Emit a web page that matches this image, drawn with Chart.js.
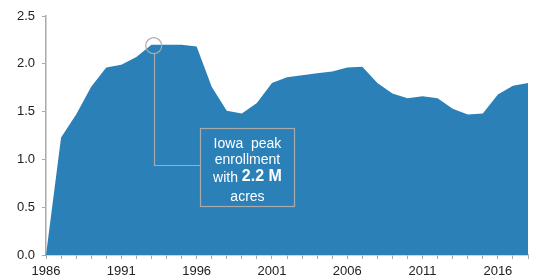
<!DOCTYPE html>
<html>
<head>
<meta charset="utf-8">
<script src="https://cdn.jsdelivr.net/npm/chart.js@4/dist/chart.umd.min.js"></script>
<style>
html,body{margin:0;padding:0;background:#fff;}
#wrap{width:537px;height:278px;position:relative;}
</style>
</head>
<body>
<div id="wrap"><canvas id="c" width="537" height="278"></canvas></div>
<script>
const years = [1986,1987,1988,1989,1990,1991,1992,1993,1994,1995,1996,1997,1998,1999,2000,2001,2002,2003,2004,2005,2006,2007,2008,2009,2010,2011,2012,2013,2014,2015,2016,2017,2018];
const enrollment = [0.0,1.23,1.47,1.76,1.96,1.99,2.07,2.20,2.20,2.20,2.18,1.76,1.51,1.48,1.59,1.80,1.86,1.88,1.90,1.92,1.96,1.97,1.80,1.69,1.64,1.66,1.64,1.53,1.47,1.48,1.68,1.77,1.80];
const yTicks = [0,0.5,1.0,1.5,2.0,2.5];
const xLabelYears = [1986,1991,1996,2001,2006,2011,2016];
const peakYear = 1993;
const peakValue = 2.2;

const FONT = '"Liberation Sans", Arial, sans-serif';
const GREY = '#aaaaaa';

const annotationPlugin = {
  id: 'peakNote',
  afterDatasetsDraw(chart) {
    const ctx = chart.ctx;
    const xs = chart.scales.x, ys = chart.scales.y;
    const cx = xs.getPixelForValue(peakYear + 0.15);
    const cy = ys.getPixelForValue(peakValue - 0.01);
    const r = 8;
    const lineY = ys.getPixelForValue(0.94);
    const bx0 = xs.getPixelForValue(1996.25), bx1 = xs.getPixelForValue(2002.5);
    const by0 = ys.getPixelForValue(1.33), by1 = ys.getPixelForValue(0.51);
    ctx.save();
    ctx.strokeStyle = GREY;
    ctx.lineWidth = 1.2;
    ctx.beginPath();
    ctx.arc(cx, cy, r, 0, Math.PI*2);
    ctx.stroke();
    ctx.beginPath();
    ctx.moveTo(Math.round(cx)+0.5, cy + r);
    ctx.lineTo(Math.round(cx)+0.5, Math.round(lineY)+0.5);
    ctx.lineTo(bx0, Math.round(lineY)+0.5);
    ctx.stroke();
    ctx.strokeRect(Math.round(bx0)+0.5, Math.round(by0)+0.5, Math.round(bx1-bx0), Math.round(by1-by0));
    // text
    ctx.fillStyle = '#ffffff';
    ctx.textBaseline = 'middle';
    ctx.textAlign = 'center';
    const mid = (bx0 + bx1) / 2;
    const top = by0;
    ctx.font = '14px ' + FONT;
    ctx.fillText('Iowa  peak', mid, top + 16);
    ctx.fillText('enrollment', mid, top + 32);
    const p1 = 'with ';
    ctx.font = '14px ' + FONT;
    const w1 = ctx.measureText(p1).width;
    ctx.font = 'bold 16px ' + FONT;
    const p2 = '2.2 M';
    const w2 = ctx.measureText(p2).width;
    const sx = mid - (w1 + w2) / 2;
    ctx.textAlign = 'left';
    ctx.font = '14px ' + FONT;
    ctx.fillText(p1, sx, top + 50);
    ctx.font = 'bold 16px ' + FONT;
    ctx.fillText(p2, sx + w1, top + 49);
    ctx.textAlign = 'center';
    ctx.font = '14px ' + FONT;
    ctx.fillText('acres', mid, top + 69);
    ctx.restore();
  }
};

new Chart(document.getElementById('c'), {
  type: 'line',
  data: {
    datasets: [{
      data: years.map((y, i) => ({x: y, y: enrollment[i]})),
      fill: 'origin',
      backgroundColor: '#2c80b8',
      borderColor: '#2c80b8',
      borderWidth: 0,
      pointRadius: 0,
      tension: 0
    }]
  },
  options: {
    responsive: false,
    animation: false,
    layout: { padding: { top: 16, right: 9, left: 0, bottom: 0 } },
    plugins: { legend: { display: false }, tooltip: { enabled: false } },
    scales: {
      x: {
        type: 'linear',
        min: years[0],
        max: years[years.length - 1],
        afterBuildTicks(scale) {
          scale.ticks = years.map(v => ({value: v}));
        },
        afterFit(scale) { scale.height = 23; },
        ticks: {
          autoSkip: false,
          maxRotation: 0,
          padding: 5,
          color: '#222',
          font: { family: FONT, size: 13 },
          callback: v => xLabelYears.includes(v) ? String(v) : ''
        },
        grid: { drawOnChartArea: false, drawTicks: true, tickLength: 4, color: GREY, lineWidth: 1 },
        border: { display: true, color: GREY, width: 1.5 }
      },
      y: {
        min: 0,
        max: 2.5,
        afterBuildTicks(scale) {
          scale.ticks = yTicks.map(v => ({value: v}));
        },
        afterFit(scale) { scale.width = 46; },
        ticks: {
          padding: 7,
          color: '#222',
          font: { family: FONT, size: 13 },
          callback: v => Number(v).toFixed(1)
        },
        grid: { drawOnChartArea: false, drawTicks: true, tickLength: 4, color: GREY, lineWidth: 1 },
        border: { display: true, color: GREY, width: 1.5 }
      }
    }
  },
  plugins: [annotationPlugin]
});
</script>
</body>
</html>
